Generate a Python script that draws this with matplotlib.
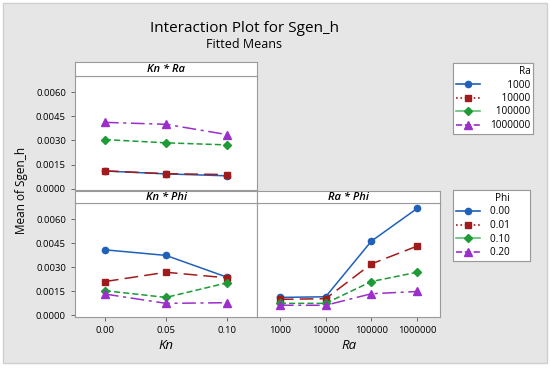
import matplotlib
matplotlib.use('Agg')
import matplotlib.pyplot as plt
from matplotlib.lines import Line2D
from matplotlib.patches import Rectangle

kn_levels = ['0.00', '0.05', '0.10']
ra_levels = ['1000', '10000', '100000', '1000000']
phi_levels = ['0.00', '0.01', '0.10', '0.20']
y_ticks = [0.0, 0.0015, 0.0030, 0.0045, 0.0060]

# Kn * Ra  (one row per Ra level, columns = Kn)
kn_ra_means = [[0.00110, 0.00092, 0.00080],
               [0.00111, 0.00093, 0.00088],
               [0.00305, 0.00285, 0.00272],
               [0.00412, 0.00400, 0.00336]]
# Kn * Phi (one row per Phi level, columns = Kn)
kn_phi_means = [[0.00408, 0.00373, 0.00237],
                [0.00210, 0.00268, 0.00233],
                [0.00153, 0.00111, 0.00202],
                [0.00132, 0.00074, 0.00078]]
# Ra * Phi (one row per Phi level, columns = Ra)
ra_phi_means = [[0.00111, 0.00115, 0.00462, 0.00666],
                [0.00099, 0.00103, 0.00320, 0.00431],
                [0.00074, 0.00074, 0.00210, 0.00268],
                [0.00062, 0.00062, 0.00134, 0.00148]]

colors = ['#1f60b8', '#a01c1c', '#1e9a36', '#9b2fc9']
markers = ['o', 's', 'D', '^']
msizes = [4.5, 4.5, 4.0, 5.5]
dashes = [(), (9, 4), (4, 2), (9, 3, 2, 3)]

plt.rcParams['font.family'] = ['Open Sans', 'DejaVu Sans']
W, H = 550, 369
fig = plt.figure(figsize=(W / 100, H / 100), dpi=100, facecolor='white')
fig.patches.append(Rectangle((3 / W, 1 - 363 / H), 544 / W, 360 / H, transform=fig.transFigure,
                             facecolor='#e6e6e6', edgecolor='#cfcfcf', lw=1, zorder=-10))


def box(x0, y0, x1, y1):
    return [x0 / W, 1 - y1 / H, (x1 - x0) / W, (y1 - y0) / H]


edge = '#9a9a9a'


def strip(rect, label):
    s = fig.add_axes(box(*rect))
    s.set_facecolor('white')
    s.set_xticks([])
    s.set_yticks([])
    for sp in s.spines.values():
        sp.set_color(edge)
    s.text(0.5, 0.45, label, ha='center', va='center', style='italic', fontsize=8,
           fontweight='semibold', transform=s.transAxes)


def panel(rect, xs, series, xlim, show_y, show_x, xticklabels):
    ax = fig.add_axes(box(*rect))
    for i, ys in enumerate(series):
        ax.plot(xs, ys, color=colors[i], marker=markers[i], ms=msizes[i], lw=1.1,
                dashes=dashes[i])
    ax.set_xlim(*xlim)
    ax.set_ylim(-0.00008, 0.0070)
    for sp in ax.spines.values():
        sp.set_color(edge)
    ax.tick_params(colors='#555555', labelcolor='black', labelsize=6.8, length=3, width=0.6)
    if show_y:
        ax.set_yticks(y_ticks)
        ax.set_yticklabels(['%.4f' % v for v in y_ticks])
    else:
        ax.set_yticks([])
    if show_x:
        ax.set_xticks(xs)
        ax.set_xticklabels(xticklabels)
    else:
        ax.set_xticks([])
    return ax


kx = list(range(len(kn_levels)))
rx = list(range(len(ra_levels)))

ax1 = panel((75, 76, 257, 190), kx, kn_ra_means, (-0.49, 2.49), True, False, kn_levels)
strip((75, 62, 257, 76), 'Kn * Ra')
ax2 = panel((75, 203, 257, 316.5), kx, kn_phi_means, (-0.49, 2.49), True, True, kn_levels)
strip((75, 190.5, 257, 203), 'Kn * Phi')
ax3 = panel((257, 203, 440, 316.5), rx, ra_phi_means, (-0.5, 3.5), False, True, ra_levels)
strip((257, 190.5, 440, 203), 'Ra * Phi')

ax2.set_xlabel('Kn', style='italic', fontsize=9.5, labelpad=3)
ax3.set_xlabel('Ra', style='italic', fontsize=9.5, labelpad=3)

fig.text(244 / W, 1 - 28 / H, 'Interaction Plot for Sgen_h', ha='center', va='center',
         fontsize=11, fontweight='medium')
fig.text(244 / W, 1 - 45 / H, 'Fitted Means', ha='center', va='center', fontsize=9)
fig.text(22 / W, 1 - 190 / H, 'Mean of Sgen_h', ha='center', va='center', rotation=90, fontsize=8.5)

leg_colors = ['#1f60b8', '#a01c1c', '#5cc070', '#9b2fc9']
leg_styles = ['-', ':', '-', '--']


def legend_handles():
    return [Line2D([0], [0], color=leg_colors[i], ls=leg_styles[i], lw=1.2,
                   marker=markers[i], ms=msizes[i], mfc=colors[i], mec=colors[i])
            for i in range(4)]


fs = '\u2007'
ra_labels = [fs * (7 - len(r)) + r for r in ra_levels]
phi_labels = [p + fs * 3 for p in phi_levels]
for title, labels, top in [('Ra', ra_labels, 63), ('Phi' + fs * 3, phi_labels, 190)]:
    leg = fig.legend(legend_handles(), labels, title=title, loc='upper left',
                     bbox_to_anchor=(453 / W, 1 - top / H), fontsize=7.2, title_fontsize=7.2,
                     fancybox=False, edgecolor=edge, framealpha=1, handlelength=2.4,
                     labelspacing=0.25, handletextpad=1.0, borderpad=0.3,
                     alignment='right', borderaxespad=0)
    leg.get_frame().set_linewidth(0.8)
    fig.add_artist(leg)

fig.savefig('out.png', dpi=100, facecolor=fig.get_facecolor())
